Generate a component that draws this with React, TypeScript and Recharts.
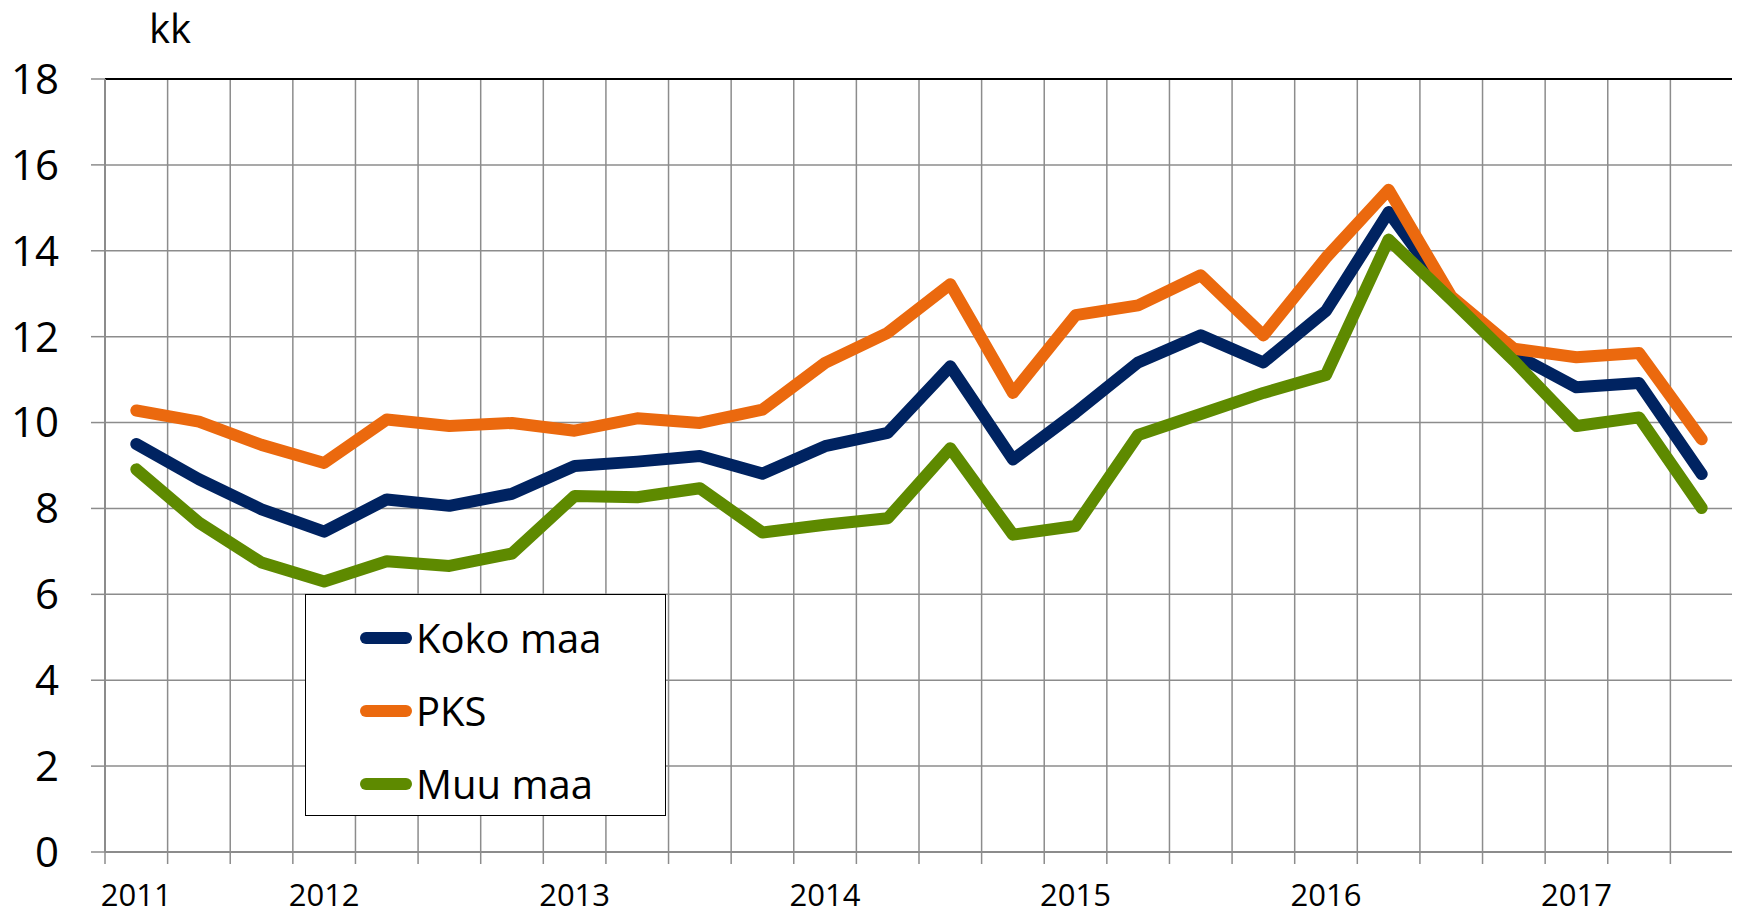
import { LineChart, Line, XAxis, YAxis, CartesianGrid, ReferenceLine } from 'recharts';

// quarterly series, 2011 Q2 .. 2017 Q3
const quarters = [
  '2011Q2', '2011Q3', '2011Q4',
  '2012Q1', '2012Q2', '2012Q3', '2012Q4',
  '2013Q1', '2013Q2', '2013Q3', '2013Q4',
  '2014Q1', '2014Q2', '2014Q3', '2014Q4',
  '2015Q1', '2015Q2', '2015Q3', '2015Q4',
  '2016Q1', '2016Q2', '2016Q3', '2016Q4',
  '2017Q1', '2017Q2', '2017Q3',
];

const kokoMaa = [
  9.5, 8.68, 7.98, 7.46, 8.21, 8.06, 8.34, 8.99, 9.09, 9.22, 8.81, 9.45, 9.76,
  11.31, 9.14, 10.23, 11.4, 12.03, 11.4, 12.6, 14.9, 12.9, 11.6, 10.82, 10.92, 8.8,
];
const pks = [
  10.28, 10.02, 9.48, 9.06, 10.07, 9.92, 9.99, 9.81, 10.1, 9.99, 10.3, 11.39, 12.09,
  13.22, 10.69, 12.5, 12.73, 13.43, 12.03, 13.84, 15.42, 12.94, 11.72, 11.52, 11.62, 9.61,
];
const muuMaa = [
  8.91, 7.67, 6.74, 6.3, 6.77, 6.66, 6.95, 8.29, 8.26, 8.47, 7.44, 7.62, 7.77,
  9.4, 7.39, 7.59, 9.71, 10.2, 10.69, 11.11, 14.26, 12.86, 11.44, 9.92, 10.12, 8.01,
];

const yearLabels = ['2011', '2012', '2013', '2014', '2015', '2016', '2017'];
const yearStartIdx = [0, 3, 7, 11, 15, 19, 23];
const yTicks = [0, 2, 4, 6, 8, 10, 12, 14, 16, 18];

const series = [
  { key: 'koko', name: 'Koko maa', color: '#002361' },
  { key: 'pks', name: 'PKS', color: '#EB690E' },
  { key: 'muu', name: 'Muu maa', color: '#5E8A00' },
];

const FONT = '"Open Sans", "Noto Sans", sans-serif';
const GRID = '#8c8c8c';

const n = quarters.length;
const data = quarters.map((q, i) => ({
  q,
  x: i + 0.5,
  koko: kokoMaa[i],
  pks: pks[i],
  muu: muuMaa[i],
}));
const boundaryTicks = Array.from({ length: n + 1 }, (_, i) => i);
const labelTicks = yearStartIdx.map((i) => i + 0.5);

const LegendBox = () => (
  <div
    style={{
      position: 'absolute',
      left: 297,
      top: 586,
      width: 361,
      height: 222,
      boxSizing: 'border-box',
      border: '1.5px solid #000',
      background: '#fff',
      fontFamily: FONT,
      fontSize: 40,
      color: '#000',
      paddingTop: 6,
    }}
  >
    {series.map((s) => (
      <div key={s.key} style={{ display: 'flex', alignItems: 'center', height: 73, paddingLeft: 54 }}>
        <div style={{ width: 52, height: 12, borderRadius: 6, background: s.color }} />
        <span style={{ marginLeft: 4, lineHeight: 1 }}>{s.name}</span>
      </div>
    ))}
  </div>
);

export default function App() {
  return (
    <div style={{ position: 'relative', width: 1732, height: 909, fontFamily: FONT }}>
      <div style={{ position: 'absolute', left: 141, top: -8, fontSize: 40, color: '#000' }}>kk</div>
      <LineChart width={1732} height={909} data={data} margin={{ top: 71, right: 7, left: 0, bottom: 0 }}>
        <CartesianGrid xAxisId="grid" stroke={GRID} strokeWidth={1.5} horizontalValues={yTicks} vertical={false} />
        {boundaryTicks.slice(1, n).map((b) => (
          <ReferenceLine key={b} xAxisId="grid" x={b} stroke={GRID} strokeWidth={1.5} />
        ))}
        <XAxis
          xAxisId="grid"
          dataKey="x"
          type="number"
          domain={[0, n]}
          ticks={boundaryTicks}
          tickFormatter={() => ''}
          tickSize={12}
          height={12}
          axisLine={{ stroke: GRID, strokeWidth: 2 }}
          tickLine={{ stroke: GRID, strokeWidth: 1.5 }}
        />
        <XAxis
          xAxisId="labels"
          dataKey="x"
          type="number"
          domain={[0, n]}
          ticks={labelTicks}
          tickFormatter={(v: number) => yearLabels[labelTicks.indexOf(v)] ?? ''}
          height={53}
          tickSize={0}
          tickMargin={20}
          axisLine={false}
          tickLine={false}
          tick={{ fill: '#000', fontSize: 31, fontFamily: FONT }}
        />
        <YAxis
          domain={[0, 18]}
          ticks={yTicks}
          width={97}
          tickSize={14}
          tickMargin={32}
          axisLine={{ stroke: GRID, strokeWidth: 2 }}
          tickLine={{ stroke: GRID, strokeWidth: 1.5 }}
          tick={{ fill: '#000', fontSize: 42, fontFamily: FONT }}
        />
        <ReferenceLine xAxisId="grid" y={18} stroke="#000" strokeWidth={2} />
        <ReferenceLine xAxisId="grid" x={n} stroke="#000" strokeWidth={2} />
        {series.map((s) => (
          <Line
            key={s.key}
            xAxisId="grid"
            dataKey={s.key}
            name={s.name}
            stroke={s.color}
            strokeWidth={12}
            strokeLinecap="round"
            strokeLinejoin="round"
            dot={false}
            isAnimationActive={false}
          />
        ))}
      </LineChart>
      <LegendBox />
    </div>
  );
}
